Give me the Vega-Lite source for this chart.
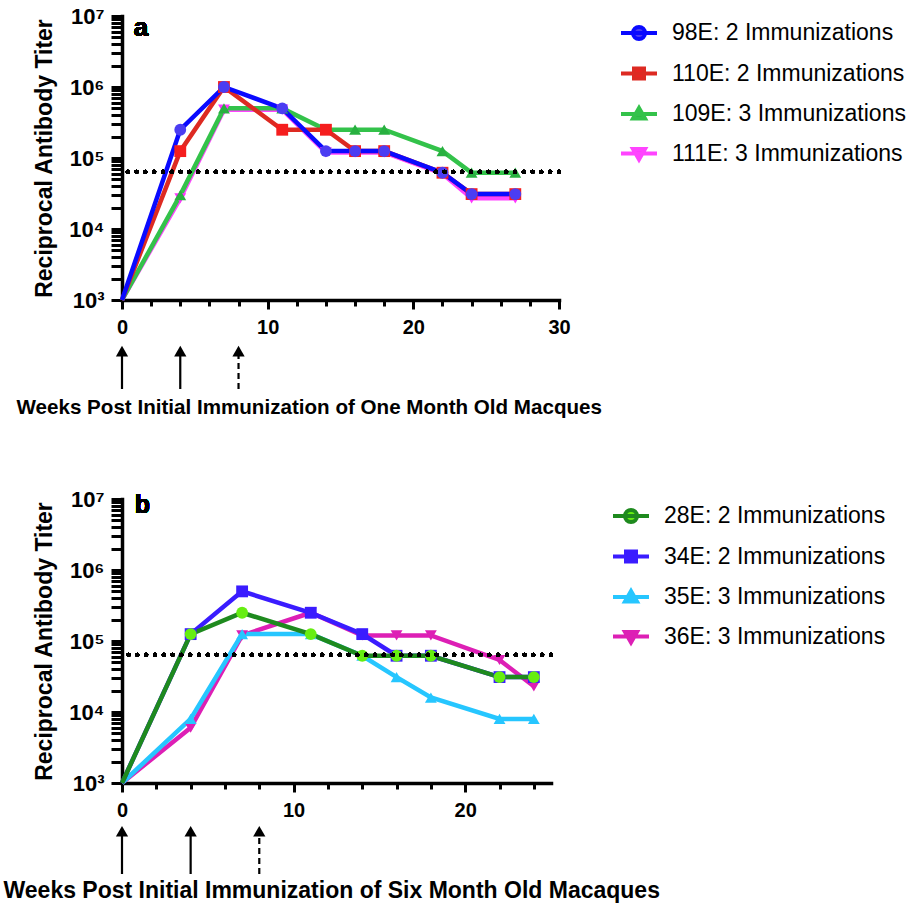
{
  "$schema": "https://vega.github.io/schema/vega-lite/v6.json",
  "background": "white",
  "padding": {"left": 3, "top": 5, "right": 5, "bottom": 4},
  "datasets": {
    "a": [
      {"series": "111E: 3 Immunizations", "week": 0, "titer": 1000},
      {"series": "111E: 3 Immunizations", "week": 4, "titer": 27000},
      {"series": "111E: 3 Immunizations", "week": 7, "titer": 480000},
      {"series": "111E: 3 Immunizations", "week": 11, "titer": 480000},
      {"series": "111E: 3 Immunizations", "week": 14, "titer": 120000},
      {"series": "111E: 3 Immunizations", "week": 16, "titer": 120000},
      {"series": "111E: 3 Immunizations", "week": 18, "titer": 120000},
      {"series": "111E: 3 Immunizations", "week": 22, "titer": 60000},
      {"series": "111E: 3 Immunizations", "week": 24, "titer": 27000},
      {"series": "111E: 3 Immunizations", "week": 27, "titer": 27000},
      {"series": "109E: 3 Immunizations", "week": 0, "titer": 1000},
      {"series": "109E: 3 Immunizations", "week": 4, "titer": 30000},
      {"series": "109E: 3 Immunizations", "week": 7, "titer": 500000},
      {"series": "109E: 3 Immunizations", "week": 11, "titer": 500000},
      {"series": "109E: 3 Immunizations", "week": 14, "titer": 250000},
      {"series": "109E: 3 Immunizations", "week": 16, "titer": 250000},
      {"series": "109E: 3 Immunizations", "week": 18, "titer": 250000},
      {"series": "109E: 3 Immunizations", "week": 22, "titer": 125000},
      {"series": "109E: 3 Immunizations", "week": 24, "titer": 62000},
      {"series": "109E: 3 Immunizations", "week": 27, "titer": 62000},
      {"series": "110E: 2 Immunizations", "week": 0, "titer": 1000},
      {"series": "110E: 2 Immunizations", "week": 4, "titer": 125000},
      {"series": "110E: 2 Immunizations", "week": 7, "titer": 1000000},
      {"series": "110E: 2 Immunizations", "week": 11, "titer": 250000},
      {"series": "110E: 2 Immunizations", "week": 14, "titer": 250000},
      {"series": "110E: 2 Immunizations", "week": 16, "titer": 125000},
      {"series": "110E: 2 Immunizations", "week": 18, "titer": 125000},
      {"series": "110E: 2 Immunizations", "week": 22, "titer": 62000},
      {"series": "110E: 2 Immunizations", "week": 24, "titer": 31000},
      {"series": "110E: 2 Immunizations", "week": 27, "titer": 31000},
      {"series": "98E: 2 Immunizations", "week": 0, "titer": 1000},
      {"series": "98E: 2 Immunizations", "week": 4, "titer": 250000},
      {"series": "98E: 2 Immunizations", "week": 7, "titer": 1000000},
      {"series": "98E: 2 Immunizations", "week": 11, "titer": 500000},
      {"series": "98E: 2 Immunizations", "week": 14, "titer": 125000},
      {"series": "98E: 2 Immunizations", "week": 16, "titer": 125000},
      {"series": "98E: 2 Immunizations", "week": 18, "titer": 125000},
      {"series": "98E: 2 Immunizations", "week": 22, "titer": 62000},
      {"series": "98E: 2 Immunizations", "week": 24, "titer": 31000},
      {"series": "98E: 2 Immunizations", "week": 27, "titer": 31000}
    ],
    "b": [
      {"series": "36E: 3 Immunizations", "week": 0, "titer": 1000},
      {"series": "36E: 3 Immunizations", "week": 4, "titer": 6000},
      {"series": "36E: 3 Immunizations", "week": 7, "titer": 120000},
      {"series": "36E: 3 Immunizations", "week": 11, "titer": 250000},
      {"series": "36E: 3 Immunizations", "week": 14, "titer": 120000},
      {"series": "36E: 3 Immunizations", "week": 16, "titer": 120000},
      {"series": "36E: 3 Immunizations", "week": 18, "titer": 120000},
      {"series": "36E: 3 Immunizations", "week": 22, "titer": 54000},
      {"series": "36E: 3 Immunizations", "week": 24, "titer": 23000},
      {"series": "35E: 3 Immunizations", "week": 0, "titer": 1000},
      {"series": "35E: 3 Immunizations", "week": 4, "titer": 8000},
      {"series": "35E: 3 Immunizations", "week": 7, "titer": 125000},
      {"series": "35E: 3 Immunizations", "week": 11, "titer": 125000},
      {"series": "35E: 3 Immunizations", "week": 14, "titer": 62000},
      {"series": "35E: 3 Immunizations", "week": 16, "titer": 31000},
      {"series": "35E: 3 Immunizations", "week": 18, "titer": 16000},
      {"series": "35E: 3 Immunizations", "week": 22, "titer": 8000},
      {"series": "35E: 3 Immunizations", "week": 24, "titer": 8000},
      {"series": "34E: 2 Immunizations", "week": 0, "titer": 1000},
      {"series": "34E: 2 Immunizations", "week": 4, "titer": 125000},
      {"series": "34E: 2 Immunizations", "week": 7, "titer": 500000},
      {"series": "34E: 2 Immunizations", "week": 11, "titer": 250000},
      {"series": "34E: 2 Immunizations", "week": 14, "titer": 125000},
      {"series": "34E: 2 Immunizations", "week": 16, "titer": 62000},
      {"series": "34E: 2 Immunizations", "week": 18, "titer": 62000},
      {"series": "34E: 2 Immunizations", "week": 22, "titer": 31000},
      {"series": "34E: 2 Immunizations", "week": 24, "titer": 31000},
      {"series": "28E: 2 Immunizations", "week": 0, "titer": 1000},
      {"series": "28E: 2 Immunizations", "week": 4, "titer": 125000},
      {"series": "28E: 2 Immunizations", "week": 7, "titer": 250000},
      {"series": "28E: 2 Immunizations", "week": 11, "titer": 125000},
      {"series": "28E: 2 Immunizations", "week": 14, "titer": 62000},
      {"series": "28E: 2 Immunizations", "week": 16, "titer": 62000},
      {"series": "28E: 2 Immunizations", "week": 18, "titer": 62000},
      {"series": "28E: 2 Immunizations", "week": 22, "titer": 31000},
      {"series": "28E: 2 Immunizations", "week": 24, "titer": 31000}
    ],
    "arrows": [
      {"week": 0, "style": "solid"},
      {"week": 4, "style": "solid"},
      {"week": 8, "style": "dashed"}
    ]
  },
  "vconcat": [
    {
      "spacing": 8,
      "vconcat": [
        {
          "width": 437,
          "height": 284,
          "data": {"name": "a"},
          "resolve": {"axis": {"x": "independent"}},
          "layer": [
            {
              "encoding": {
                "x": {"field": "week", "type": "quantitative",
                  "scale": {"domain": [0, 30], "nice": false},
                  "axis": {"title": null, "orient": "bottom", "values": [0, 10, 20, 30], "labelOverlap": false, "labelFlush": false,
                    "tickSize": 9, "labelPadding": 8}},
                "y": {"field": "titer", "type": "quantitative",
                  "scale": {"type": "log", "domain": [1000, 10000000], "nice": false},
                  "axis": {"title": "Reciprocal Antibody Titer",
                    "values": [1000,2000,3000,4000,5000,6000,7000,8000,9000,10000,20000,30000,40000,50000,60000,70000,80000,90000,100000,200000,300000,400000,500000,600000,700000,800000,900000,1000000,2000000,3000000,4000000,5000000,6000000,7000000,8000000,9000000,10000000],
                    "labelExpr": "datum.value == 1000 ? '10³' : datum.value == 10000 ? '10⁴' : datum.value == 100000 ? '10⁵' : datum.value == 1000000 ? '10⁶' : datum.value == 10000000 ? '10⁷' : ''", "labelOverlap": false,
                    "tickSize": 11, "labelPadding": 7, "titlePadding": 12, "labelFontSize": 22, "titleFontSize": 23,
                    "encode": {"ticks": {"update": {"x2": {"signal": "indexof([1000,10000,100000,1000000,10000000], datum.value) >= 0 ? -11 : -5"}}}}}}
              },
              "layer": [
                {
                  "mark": {"type": "line", "strokeWidth": 4.5, "strokeJoin": "miter"},
                  "encoding": {
                    "stroke": {"field": "series", "type": "nominal", "legend": null,
                      "scale": {"range": ["#33c24a", "#dd2a22", "#ff44ff", "#0a0aff"]}}
                  }
                },
                {
                  "transform": [{"filter": "datum.week > 0"}],
                  "mark": {"type": "point", "filled": true, "size": 140, "opacity": 1, "strokeWidth": 0},
                  "encoding": {
                    "shape": {"field": "series", "type": "nominal", "legend": null,
                      "scale": {"range": ["triangle-up", "square", "triangle-down", "circle"]}},
                    "fill": {"field": "series", "type": "nominal",
                      "scale": {"domain": ["98E: 2 Immunizations", "110E: 2 Immunizations", "109E: 3 Immunizations", "111E: 3 Immunizations"],
                        "range": ["#4b3df2", "#f51e1e", "#28b040", "#ff33ff"]},
                      "legend": {"title": null, "orient": "right", "offset": 63, "padding": 5,
                        "symbolSize": 400, "symbolStrokeWidth": 4, "symbolOpacity": 1,
                        "labelFontSize": 23, "labelFont": "Liberation Sans", "labelColor": "black", "labelLimit": 400,
                        "labelOffset": 21, "rowPadding": 13.5,
                        "encode": {"symbols": {"update": {
                          "shape": {"signal": "['M-1.8,0H1.8M0.6,0A0.6,0.6,0,1,1,-0.6,0A0.6,0.6,0,1,1,0.6,0Z','M-1.8,0H1.8M-0.5,-0.5H0.5V0.5H-0.5Z','M-1.8,0H1.8M0,-0.6L0.6,0.45L-0.6,0.45Z','M-1.8,0H1.8M0,0.6L0.6,-0.45L-0.6,-0.45Z'][indexof(['98E: 2 Immunizations','110E: 2 Immunizations','109E: 3 Immunizations','111E: 3 Immunizations'], datum.value)]"},
                          "stroke": {"signal": "['#0a0aff','#dd2a22','#33c24a','#ff44ff'][indexof(['98E: 2 Immunizations','110E: 2 Immunizations','109E: 3 Immunizations','111E: 3 Immunizations'], datum.value)]"}
                        }}}}
                    }
                  }
                }
              ]
            },
            {
              "mark": {"type": "rule", "color": "black", "strokeWidth": 4, "strokeDash": [0.1, 8.7], "strokeCap": "round"},
              "encoding": {"y": {"datum": 64000}}
            },
            {
              "mark": {"type": "text", "text": "a", "fontSize": 26, "fontWeight": "bold", "align": "left", "baseline": "alphabetic", "dy": 20, "color": "black"},
              "encoding": {
                "x": {"datum": 0.8, "type": "quantitative",
                  "axis": {"title": null, "orient": "bottom", "values": [2,4,6,8,12,14,16,18,22,24,26,28],
                    "labels": false, "domain": false, "tickSize": 6}},
                "y": {"datum": 10000000}
              }
            }
          ]
        },
        {
          "width": 437,
          "height": 43,
          "data": {"name": "arrows"},
          "encoding": {
            "x": {"field": "week", "type": "quantitative",
              "scale": {"domain": [0, 30], "nice": false},
              "axis": {"title": "Weeks Post Initial Immunization of One Month Old Macques",
                "domain": false, "ticks": false, "labels": false,
                "titleAnchor": "start", "titleAlign": "left", "titleX": -106, "titlePadding": 8, "titleFontSize": 20.6}}
          },
          "layer": [
            {
              "mark": {"type": "rule", "color": "black", "strokeWidth": 2.2},
              "encoding": {
                "y": {"datum": 0, "type": "quantitative", "scale": {"domain": [0, 1]}, "axis": null},
                "y2": {"datum": 0.8},
                "strokeDash": {"field": "style", "type": "nominal", "legend": null,
                  "scale": {"domain": ["solid", "dashed"], "range": [[1, 0], [6, 4]]}}
              }
            },
            {
              "mark": {"type": "point", "shape": "triangle-up", "filled": true, "size": 150, "color": "black", "opacity": 1},
              "encoding": {"y": {"datum": 0.88, "type": "quantitative"}}
            }
          ]
        }
      ],
      "resolve": {
        "scale": {"x": "independent", "y": "independent"},
        "legend": {"fill": "independent"}
      }
    },
    {
      "spacing": 5,
      "vconcat": [
        {
          "width": 429,
          "height": 284,
          "data": {"name": "b"},
          "resolve": {"axis": {"x": "independent"}},
          "layer": [
            {
              "encoding": {
                "x": {"field": "week", "type": "quantitative",
                  "scale": {"domain": [0, 25], "nice": false},
                  "axis": {"title": null, "orient": "bottom", "values": [0, 10, 20], "labelOverlap": false, "labelFlush": false,
                    "tickSize": 9, "labelPadding": 8}},
                "y": {"field": "titer", "type": "quantitative",
                  "scale": {"type": "log", "domain": [1000, 10000000], "nice": false},
                  "axis": {"title": "Reciprocal Antibody Titer",
                    "values": [1000,2000,3000,4000,5000,6000,7000,8000,9000,10000,20000,30000,40000,50000,60000,70000,80000,90000,100000,200000,300000,400000,500000,600000,700000,800000,900000,1000000,2000000,3000000,4000000,5000000,6000000,7000000,8000000,9000000,10000000],
                    "labelExpr": "datum.value == 1000 ? '10³' : datum.value == 10000 ? '10⁴' : datum.value == 100000 ? '10⁵' : datum.value == 1000000 ? '10⁶' : datum.value == 10000000 ? '10⁷' : ''", "labelOverlap": false,
                    "tickSize": 11, "labelPadding": 7, "titlePadding": 12, "labelFontSize": 22, "titleFontSize": 23,
                    "encode": {"ticks": {"update": {"x2": {"signal": "indexof([1000,10000,100000,1000000,10000000], datum.value) >= 0 ? -11 : -5"}}}}}}
              },
              "layer": [
                {
                  "mark": {"type": "line", "strokeWidth": 4.5, "strokeJoin": "miter"},
                  "encoding": {
                    "stroke": {"field": "series", "type": "nominal", "legend": null,
                      "scale": {"range": ["#1e8a1e", "#3a1cff", "#26c6ff", "#dd1fb5"]}}
                  }
                },
                {
                  "transform": [{"filter": "datum.week > 0"}],
                  "mark": {"type": "point", "filled": true, "size": 140, "opacity": 1, "strokeWidth": 0},
                  "encoding": {
                    "shape": {"field": "series", "type": "nominal", "legend": null,
                      "scale": {"range": ["circle", "square", "triangle-up", "triangle-down"]}},
                    "fill": {"field": "series", "type": "nominal",
                      "scale": {"domain": ["28E: 2 Immunizations", "34E: 2 Immunizations", "35E: 3 Immunizations", "36E: 3 Immunizations"],
                        "range": ["#66ee11", "#3a1cff", "#26c6ff", "#dd1fb5"]},
                      "legend": {"title": null, "orient": "right", "offset": 63, "padding": 5,
                        "symbolSize": 400, "symbolStrokeWidth": 4, "symbolOpacity": 1,
                        "labelFontSize": 23, "labelFont": "Liberation Sans", "labelColor": "black", "labelLimit": 400,
                        "labelOffset": 21, "rowPadding": 13.5,
                        "encode": {"symbols": {"update": {
                          "shape": {"signal": "['M-1.8,0H1.8M0.6,0A0.6,0.6,0,1,1,-0.6,0A0.6,0.6,0,1,1,0.6,0Z','M-1.8,0H1.8M-0.5,-0.5H0.5V0.5H-0.5Z','M-1.8,0H1.8M0,-0.6L0.6,0.45L-0.6,0.45Z','M-1.8,0H1.8M0,0.6L0.6,-0.45L-0.6,-0.45Z'][indexof(['28E: 2 Immunizations','34E: 2 Immunizations','35E: 3 Immunizations','36E: 3 Immunizations'], datum.value)]"},
                          "stroke": {"signal": "['#1e8a1e','#3a1cff','#26c6ff','#dd1fb5'][indexof(['28E: 2 Immunizations','34E: 2 Immunizations','35E: 3 Immunizations','36E: 3 Immunizations'], datum.value)]"}
                        }}}}
                    }
                  }
                }
              ]
            },
            {
              "mark": {"type": "rule", "color": "black", "strokeWidth": 4, "strokeDash": [0.1, 8.7], "strokeCap": "round"},
              "encoding": {"y": {"datum": 64000}}
            },
            {
              "mark": {"type": "text", "text": "b", "fontSize": 25, "fontWeight": "bold", "align": "left", "baseline": "alphabetic", "dy": 14, "color": "black"},
              "encoding": {
                "x": {"datum": 0.75, "type": "quantitative",
                  "axis": {"title": null, "orient": "bottom", "values": [2,4,6,8,12,14,16,18,22,24],
                    "labels": false, "domain": false, "tickSize": 6}},
                "y": {"datum": 10000000}
              }
            }
          ]
        },
        {
          "width": 429,
          "height": 48,
          "data": {"name": "arrows"},
          "encoding": {
            "x": {"field": "week", "type": "quantitative",
              "scale": {"domain": [0, 25], "nice": false},
              "axis": {"title": "Weeks Post Initial Immunization of Six Month Old Macaques",
                "domain": false, "ticks": false, "labels": false,
                "titleAnchor": "start", "titleAlign": "left", "titleX": -119, "titlePadding": 5, "titleFontSize": 23}}
          },
          "layer": [
            {
              "mark": {"type": "rule", "color": "black", "strokeWidth": 2.2},
              "encoding": {
                "y": {"datum": 0, "type": "quantitative", "scale": {"domain": [0, 1]}, "axis": null},
                "y2": {"datum": 0.82},
                "strokeDash": {"field": "style", "type": "nominal", "legend": null,
                  "scale": {"domain": ["solid", "dashed"], "range": [[1, 0], [6, 4]]}}
              }
            },
            {
              "mark": {"type": "point", "shape": "triangle-up", "filled": true, "size": 150, "color": "black", "opacity": 1},
              "encoding": {"y": {"datum": 0.89, "type": "quantitative"}}
            }
          ]
        }
      ],
      "resolve": {
        "scale": {"x": "independent", "y": "independent"},
        "legend": {"fill": "independent"}
      }
    }
  ],
  "spacing": 70,
  "resolve": {
    "scale": {"x": "independent", "y": "independent", "stroke": "independent", "fill": "independent", "shape": "independent", "strokeDash": "independent"},
    "legend": {"fill": "independent", "stroke": "independent", "shape": "independent", "strokeDash": "independent"}
  },
  "config": {
    "font": "Liberation Sans",
    "view": {"stroke": null},
    "axis": {
      "grid": false, "labelOverlap": false,
      "domainColor": "black", "domainWidth": 3.5, "domainCap": "square",
      "tickColor": "black", "tickWidth": 3,
      "labelColor": "black", "labelFontSize": 20, "labelFontWeight": "bold", "labelFont": "Liberation Sans",
      "titleColor": "black", "titleFontSize": 20, "titleFontWeight": "bold", "titleFont": "Liberation Sans"
    }
  }
}
